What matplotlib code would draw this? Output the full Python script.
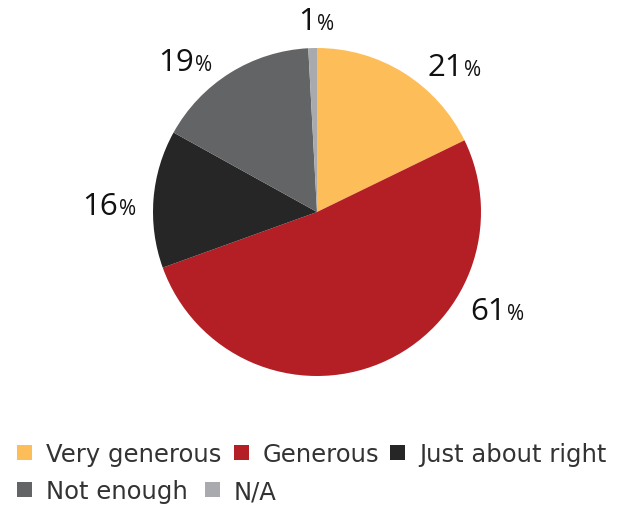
import matplotlib
matplotlib.use("Agg")
import matplotlib.pyplot as plt
from matplotlib.patches import Rectangle

categories = ["Very generous", "Generous", "Just about right", "Not enough", "N/A"]
values = [21, 61, 16, 19, 1]
colors = ["#FDBE5A", "#B41F26", "#262626", "#636466", "#A9AAAD"]

W, H = 619, 510
plt.rcParams["font.family"] = ["DejaVu Sans"]
fig = plt.figure(figsize=(W / 100, H / 100), dpi=100)


def fx(px):
    return px / W


def fy(py):
    return 1 - py / H


# Pie centred at (317, 213) px with radius 164 px
cx, cy, r = 317, 213, 164
ax = fig.add_axes([fx(cx - r), fy(cy + r), 2 * r / W, 2 * r / H])
ax.pie(values, colors=colors, startangle=90, counterclock=False,
       radius=1, wedgeprops=dict(linewidth=0))
ax.set_xlim(-1, 1)
ax.set_ylim(-1, 1)
ax.set_aspect("auto")
ax.axis("off")

# Value labels: large number followed by smaller percent sign
label_pos = [(463, 76), (506, 320), (118, 215), (194, 71), (316, 30)]
for v, (x, y) in zip(values, label_pos):
    fig.text(fx(x), fy(y), f"{v}", ha="right", va="baseline",
             fontsize=22.5, color="#111111", family="Open Sans")
    fig.text(fx(x + 1), fy(y), "%", ha="left", va="baseline",
             fontsize=15, color="#111111", family="Open Sans")

# Legend drawn as two rows of swatches and labels
legend_layout = [(17, 453), (234, 453), (390, 453), (17, 490), (205, 490)]
for name, col, (x, y) in zip(categories, colors, legend_layout):
    fig.patches.append(Rectangle((fx(x), fy(y + 7.5)), 15 / W, 15 / H,
                                 transform=fig.transFigure, facecolor=col,
                                 edgecolor="none"))
    fig.text(fx(x + 29), fy(y), name, ha="left", va="center_baseline",
             fontsize=17.5, color="#333333")

fig.savefig("out.png", dpi=100)
